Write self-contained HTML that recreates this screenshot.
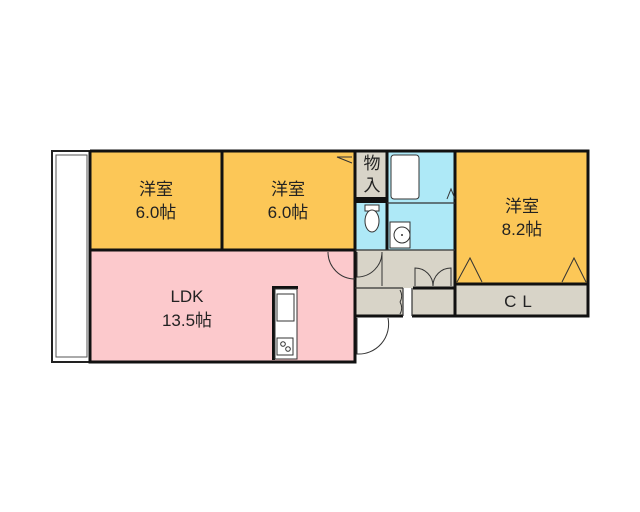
<!DOCTYPE html>
<html><head><meta charset="utf-8"><style>
html,body{margin:0;padding:0;background:#fff;}
svg{display:block}
text{font-family:"Liberation Sans","Noto Sans CJK JP",sans-serif;fill:#222}
</style></head><body>
<svg width="640" height="512" viewBox="0 0 640 512" xmlns="http://www.w3.org/2000/svg">
<rect x="52" y="151" width="38" height="211" fill="#fff" stroke="#222" stroke-width="2"/>
<rect x="56" y="155" width="31" height="202" fill="#fff" stroke="#555" stroke-width="1"/>
<rect x="90" y="151" width="132" height="99" fill="#fcc757"/>
<rect x="222" y="151" width="133" height="99" fill="#fcc757"/>
<rect x="90" y="250" width="265" height="112" fill="#fcc9cc"/>
<rect x="355" y="151" width="32" height="47" fill="#d8d4c8"/>
<rect x="355" y="197" width="32" height="6" fill="#111"/>
<rect x="387" y="151" width="68" height="52" fill="#aee9f7"/>
<rect x="355" y="203" width="32" height="47" fill="#aee9f7"/>
<rect x="387" y="203" width="68" height="47" fill="#aee9f7"/>
<rect x="355" y="250" width="100" height="38" fill="#d8d4c8"/>
<rect x="355" y="288" width="48" height="28" fill="#d8d4c8"/>
<rect x="412" y="288" width="43" height="28" fill="#d8d4c8"/>
<rect x="455" y="151" width="133" height="133" fill="#fcc757"/>
<rect x="455" y="284" width="133" height="32" fill="#d8d4c8"/>
<g stroke="#111" stroke-width="3" fill="none">
<path d="M90 151 H588 V316 H412"/>
<path d="M90 151 V362 H355 V250"/>
<path d="M222 151 V250"/>
<path d="M90 250 H355"/>
<path d="M355 151 V250"/>
<path d="M387 151 V250"/>
<path d="M455 151 V316"/>
<path d="M355 316 V362"/>
<path d="M355 316 H403"/>
<path d="M413 288 H455"/>
<path d="M455 284 H588"/>
</g>
<g stroke="#333" stroke-width="1.2" fill="none">
<path d="M355 250 H455"/>
<path d="M355 288 H403"/>
<path d="M387 203 H455"/>
<path d="M403 288 V316 M412 288 V316"/>
</g>
<rect x="391" y="155" width="28" height="44" rx="3" fill="#fff" stroke="#333"/>
<path d="M447 199 L451 189 L455 199" fill="none" stroke="#333"/>
<rect x="365" y="205" width="14" height="6" fill="#fff" stroke="#333"/>
<ellipse cx="372" cy="221" rx="7" ry="11" fill="#fff" stroke="#333"/>
<rect x="390" y="222" width="20" height="26" fill="#fff" stroke="#333"/>
<circle cx="402" cy="235" r="8" fill="#fff" stroke="#333"/>
<circle cx="402" cy="235" r="1" fill="#333"/>
<g fill="none" stroke="#333" stroke-width="1">
<path d="M328 252 A27 27 0 0 0 355 279"/>
<path d="M357 252 V277 A25 25 0 0 0 382 252"/>
<path d="M382 252 V286"/>
<path d="M415 286 V268 A18 18 0 0 1 433 286 M433 286 A18 18 0 0 1 451 268 V286"/>
<path d="M400 290 A12 12 0 0 1 400 302 M400 302 A12 12 0 0 1 400 314"/>
<path d="M357 318 V354 A30 30 0 0 0 388 318"/>
<path d="M352 157 L337 157 L352 163" />
<path d="M457 282 L470 258 L482 282 M562 282 L574 258 L586 282"/>
</g>
<rect x="272" y="286" width="26" height="3" fill="#111"/>
<rect x="272" y="286" width="3" height="74" fill="#111"/>
<rect x="275" y="289" width="22" height="70" fill="#fff" stroke="#333"/>
<rect x="277" y="294" width="17" height="27" fill="#fff" stroke="#333"/>
<rect x="277" y="338" width="16" height="17" fill="#fff" stroke="#333"/>
<circle cx="283" cy="344" r="2.3" fill="none" stroke="#333"/>
<circle cx="288" cy="349" r="2.3" fill="none" stroke="#333"/>
<g font-size="17" text-anchor="middle">
<text x="156" y="195">洋室</text><text x="156" y="218">6.0帖</text>
<text x="288" y="195">洋室</text><text x="288" y="218">6.0帖</text>
<text x="187" y="302">LDK</text><text x="187" y="326">13.5帖</text>
<text x="522" y="212">洋室</text><text x="522" y="235">8.2帖</text>
<text x="521" y="307" letter-spacing="6">CL</text>
<text x="372" y="169">物</text><text x="372" y="191">入</text>
</g>
</svg>
</body></html>
